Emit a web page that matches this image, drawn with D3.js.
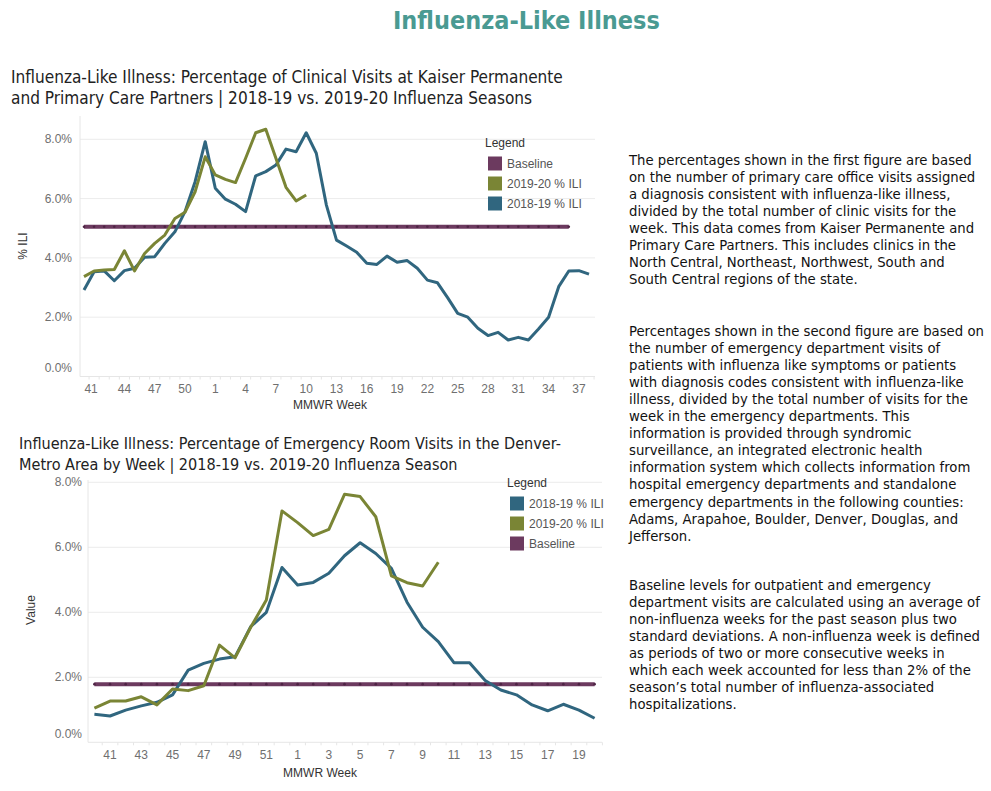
<!DOCTYPE html>
<html>
<head>
<meta charset="utf-8">
<script src="https://cdn.jsdelivr.net/npm/d3@7"></script>
<style>
  body { margin: 0; background: #fff; }
  svg text { font-family: 'DejaVu Sans Condensed', 'DejaVu Sans', sans-serif; }
  .tick-label { font-family: 'Liberation Sans', Arial, sans-serif !important; }
</style>
</head>
<body>
<svg id="page" width="991" height="791"></svg>
<script>
// --- data ---
const weeksClinic = ['40','41','42','43','44','45','46','47','48','49','50','51','52',
  '1','2','3','4','5','6','7','8','9','10','11','12','13','14','15','16','17','18','19','20',
  '21','22','23','24','25','26','27','28','29','30','31','32','33','34','35','36','37','38']
const clinic1819 = [2.92, 3.53, 3.56, 3.23, 3.57, 3.65, 4.02, 4.04, 4.49, 4.88, 5.56, 6.57, 7.92,
  6.35, 5.98, 5.81, 5.56, 6.77, 6.91, 7.13, 7.67, 7.58, 8.22, 7.53, 5.78, 4.60, 4.40, 4.19, 3.82,
  3.78, 4.06, 3.85, 3.91, 3.65, 3.25, 3.16, 2.66, 2.13, 2.00, 1.63, 1.38, 1.49, 1.23, 1.32, 1.23,
  1.60, 2.00, 3.03, 3.56, 3.57, 3.45]
const clinic1920 = [3.37, 3.56, 3.59, 3.61, 4.24, 3.56, 4.15, 4.49, 4.77, 5.33, 5.54, 6.23, 7.41,
  6.80, 6.65, 6.54, 7.36, 8.22, 8.34, 7.36, 6.38, 5.92, 6.12]
const clinicBaseline = 5.05
const clinicBaselineLast = '36'
const clinicTicks = ['41','44','47','50','1','4','7','10','13','16','19','22','25','28','31','34','37']

const weeksER = ['40','41','42','43','44','45','46','47','48','49','50','51','52',
  '1','2','3','4','5','6','7','8','9','10','11','12','13','14','15','16','17','18','19','20']
const er1819 = [0.86, 0.81, 0.99, 1.12, 1.23, 1.46, 2.22, 2.43, 2.56, 2.63, 3.56, 4.00, 5.38,
  4.84, 4.92, 5.20, 5.74, 6.14, 5.81, 5.35, 4.31, 3.54, 3.10, 2.45, 2.45, 1.90, 1.61, 1.46,
  1.15, 0.97, 1.17, 0.99, 0.74]
const er1920 = [1.05, 1.27, 1.27, 1.40, 1.15, 1.64, 1.59, 1.74, 2.99, 2.60, 3.54, 4.38, 7.12,
  6.76, 6.36, 6.55, 7.63, 7.56, 6.94, 5.12, 4.91, 4.81, 5.54]
const erBaseline = 1.79
const erTicks = ['41','43','45','47','49','51','1','3','5','7','9','11','13','15','17','19']

const yTicks = [0, 2, 4, 6, 8]

const COLORS = { s1819: '#30667f', s1920: '#7a8535', base: '#6c3a5f' }

const para1 = [
  'The percentages shown in the first figure are based',
  'on the number of primary care office visits assigned',
  'a diagnosis consistent with influenza-like illness,',
  'divided by the total number of clinic visits for the',
  'week. This data comes from Kaiser Permanente and',
  'Primary Care Partners. This includes clinics in the',
  'North Central, Northeast, Northwest, South and',
  'South Central regions of the state.'
]
const para2 = [
  'Percentages shown in the second figure are based on',
  'the number of emergency department visits of',
  'patients with influenza like symptoms or patients',
  'with diagnosis codes consistent with influenza-like',
  'illness, divided by the total number of visits for the',
  'week in the emergency departments. This',
  'information is provided through syndromic',
  'surveillance, an integrated electronic health',
  'information system which collects information from',
  'hospital emergency departments and standalone',
  'emergency departments in the following counties:',
  'Adams, Arapahoe, Boulder, Denver, Douglas, and',
  'Jefferson.'
]
const para3 = [
  'Baseline levels for outpatient and emergency',
  'department visits are calculated using an average of',
  'non-influenza weeks for the past season plus two',
  'standard deviations. A non-influenza week is defined',
  'as periods of two or more consecutive weeks in',
  'which each week accounted for less than 2% of the',
  'season\u2019s total number of influenza-associated',
  'hospitalizations.'
]

const svg = d3.select('#page')

// scale a text node's font-size so it spans a target width
function fitText(sel, target) {
  const node = sel.node()
  const fs = parseFloat(sel.attr('font-size'))
  const w = node.getComputedTextLength()
  sel.attr('font-size', (fs * target / w).toFixed(2))
  return fs * target / w
}

// page title
const mainTitle = svg.append('text')
  .attr('x', 393).attr('y', 29)
  .attr('font-size', 26).attr('font-weight', 'bold')
  .attr('fill', '#4a9a92')
  .text('Influenza-Like Illness')
fitText(mainTitle, 267)

// paragraphs
function paragraph(lines, y0, fs) {
  const t = svg.append('text').attr('x', 629).attr('y', y0)
    .attr('font-size', fs).attr('fill', '#111')
  t.selectAll('tspan').data(lines).join('tspan')
    .attr('x', 629)
    .attr('dy', (d, i) => i === 0 ? 0 : 17.05)
    .text(d => d)
}
// size the body text so its longest line spans what the reference shows
let widest = 0
para1.concat(para2, para3).forEach(l => {
  const p = svg.append('text').attr('font-size', 14).text(l)
  widest = Math.max(widest, p.node().getComputedTextLength())
  p.remove()
})
const paraFs = 14 * 355 / widest
paragraph(para1, 165, paraFs)
paragraph(para2, 336, paraFs)
paragraph(para3, 590, paraFs)

function chart(opts) {
  const g = svg.append('g')
  const x = d3.scalePoint().domain(opts.weeks).range(opts.xRange)
  const y = d3.scaleLinear().domain([0, 8]).range(opts.yRange)

  // title
  const tt = g.append('text').attr('x', opts.titleX).attr('y', opts.titleY)
    .attr('font-size', 16).attr('fill', '#222')
  tt.selectAll('tspan').data(opts.title).join('tspan')
    .attr('x', opts.titleX).attr('dy', (d, i) => i === 0 ? 0 : 21).text(d => d)
  const probeT = g.append('text').attr('font-size', 16).text(opts.title[0])
  const tfs = 16 * opts.titleW / probeT.node().getComputedTextLength()
  probeT.remove()
  tt.attr('font-size', tfs)

  // gridlines
  g.selectAll('.grid').data(yTicks.slice(1)).join('line')
    .attr('x1', opts.plot[0]).attr('x2', opts.plot[1])
    .attr('y1', d => y(d)).attr('y2', d => y(d))
    .attr('stroke', '#ececec').attr('stroke-width', 1)
  // axes lines
  g.append('line').attr('x1', opts.plot[0]).attr('x2', opts.plot[0])
    .attr('y1', opts.plotTop).attr('y2', y(0))
    .attr('stroke', '#e6e6e6')
  g.append('line').attr('x1', opts.plot[0]).attr('x2', opts.plot[1])
    .attr('y1', y(0)).attr('y2', y(0))
    .attr('stroke', '#e6e6e6')
  g.selectAll('.mtick').data(opts.weeks).join('line')
    .attr('x1', d => x(d) + x.step() / 2).attr('x2', d => x(d) + x.step() / 2)
    .attr('y1', y(0)).attr('y2', y(0) + 3)
    .attr('stroke', '#e6e6e6')

  // y tick labels
  g.selectAll('.ylab').data(yTicks).join('text')
    .attr('class', 'tick-label')
    .attr('x', opts.yLabX).attr('y', d => y(d) + 4 - (d === 0 ? 8.5 : 0))
    .attr('text-anchor', 'end').attr('font-size', 12).attr('fill', '#6f6f6f')
    .text(d => d3.format('.1f')(d) + '%')
  // x tick labels
  g.selectAll('.xlab').data(opts.ticks).join('text')
    .attr('class', 'tick-label')
    .attr('x', (d, i) => x(d) - (i === 0 ? opts.firstShift : 0)).attr('y', opts.xLabY)
    .attr('text-anchor', 'middle').attr('font-size', 12).attr('fill', '#6f6f6f')
    .text(d => d)

  // axis titles
  g.append('text').attr('class', 'tick-label')
    .attr('x', opts.xTitle[0]).attr('y', opts.xTitle[1])
    .attr('text-anchor', 'middle').attr('font-size', 12).attr('fill', '#333')
    .text('MMWR Week')
  g.append('text').attr('class', 'tick-label')
    .attr('transform', `translate(${opts.yTitle[0]},${opts.yTitle[1]}) rotate(-90)`)
    .attr('text-anchor', 'middle').attr('font-size', 12).attr('fill', '#333')
    .text(opts.yName)

  // baseline
  const bWeeks = opts.weeks.slice(0, opts.weeks.indexOf(opts.baseLast) + 1)
  g.append('line')
    .attr('x1', x(bWeeks[0])).attr('x2', x(bWeeks[bWeeks.length - 1]))
    .attr('y1', y(opts.base)).attr('y2', y(opts.base))
    .attr('stroke', COLORS.base).attr('stroke-width', 4)
  g.selectAll('.bdot').data(bWeeks).join('circle')
    .attr('cx', d => x(d)).attr('cy', y(opts.base)).attr('r', 1.3)
    .attr('fill', '#4e2444')

  const line = d3.line().x(d => x(d[0])).y(d => y(d[1]))
  const series = [
    { key: 's1819', vals: opts.s1819 },
    { key: 's1920', vals: opts.s1920 }
  ]
  series.forEach(s => {
    g.append('path')
      .attr('d', line(s.vals.map((v, i) => [opts.weeks[i], v])))
      .attr('fill', 'none').attr('stroke', COLORS[s.key])
      .attr('stroke-width', 3).attr('stroke-linejoin', 'round')
  })

  // legend
  const lg = g.append('g').attr('clip-path', opts.clip ? 'url(#' + opts.clip + ')' : null)
  lg.append('text').attr('class', 'tick-label')
    .attr('x', opts.legend[0] - 3).attr('y', opts.legend[1] - 16)
    .attr('font-size', 12).attr('fill', '#333').text('Legend')
  const items = lg.selectAll('.li').data(opts.legendItems).join('g')
    .attr('transform', (d, i) => `translate(${opts.legend[0]},${opts.legend[1] + i * 20})`)
  items.append('rect').attr('x', 0).attr('y', -6.5).attr('width', 14).attr('height', 14)
    .attr('fill', d => COLORS[d.key])
  items.append('text').attr('class', 'tick-label')
    .attr('x', 19).attr('y', 4.5).attr('font-size', 12).attr('fill', '#555')
    .text(d => d.label)
}

svg.append('defs').append('clipPath').attr('id', 'legclip')
  .append('rect').attr('x', 0).attr('y', 0).attr('width', 605).attr('height', 791)

chart({
  weeks: weeksClinic, s1819: clinic1819, s1920: clinic1920,
  base: clinicBaseline, baseLast: clinicBaselineLast, ticks: clinicTicks,
  xRange: [84, 589], yRange: [376.5, 139.3], plot: [80, 595], plotTop: 116,
  title: ['Influenza-Like Illness: Percentage of Clinical Visits at Kaiser Permanente',
    'and Primary Care Partners | 2018-19 vs. 2019-20 Influenza Seasons'],
  titleX: 11, titleY: 83, titleW: 552, firstShift: 3,
  yLabX: 72, xLabY: 393, xTitle: [330, 409], yTitle: [27, 246], yName: '% ILI',
  legend: [488, 163],
  legendItems: [{ key: 'base', label: 'Baseline' }, { key: 's1920', label: '2019-20 % ILI' },
    { key: 's1819', label: '2018-19 % ILI' }]
})

chart({
  weeks: weeksER, s1819: er1819, s1920: er1920,
  base: erBaseline, baseLast: '20', ticks: erTicks,
  xRange: [94.4, 594.6], yRange: [742.3, 482.3], plot: [88, 602], plotTop: 480,
  title: ['Influenza-Like Illness: Percentage of Emergency Room Visits in the Denver-',
    'Metro Area by Week | 2018-19 vs. 2019-20 Influenza Season'],
  titleX: 19, titleY: 449, titleW: 542, firstShift: 0,
  yLabX: 82, xLabY: 759, xTitle: [320, 777], yTitle: [35, 610], yName: 'Value',
  legend: [510, 503], clip: 'legclip',
  legendItems: [{ key: 's1819', label: '2018-19 % ILI' }, { key: 's1920', label: '2019-20 % ILI' },
    { key: 'base', label: 'Baseline' }]
})
</script>
</body>
</html>
